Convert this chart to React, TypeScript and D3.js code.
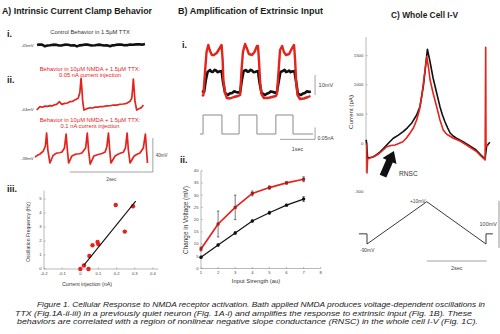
import React from 'react';
import * as d3 from 'd3';

const FONT = '"Liberation Sans", Arial, Helvetica, sans-serif';
const RED = '#e3231c';
const AXIS = '#8a8a8a';
const TICKTXT = '#444';

// ---------- Panel A: current clamp traces (time s, membrane mV) ----------
const traceAi: [number, number][] = [
  [0.05, -45], [0.1, -44.4], [0.17, -44.6], [0.24, -46.5], [0.3, -45.6], [0.36, -45.3], [0.44, -44.6],
  [0.51, -44.8], [0.58, -45.6], [0.65, -45.4], [0.72, -44.6], [0.8, -44.7], [0.87, -45.6], [0.94, -45.2],
  [1.01, -46.6], [1.07, -45.4], [1.13, -45.2], [1.2, -44.5], [1.28, -44.6], [1.36, -45.5], [1.45, -45.3],
  [1.52, -44.6], [1.59, -44.9], [1.66, -45.5], [1.73, -45.4], [1.81, -46.4], [1.87, -45.4], [1.93, -45.1],
  [2.0, -44.6], [2.07, -44.5], [2.15, -45.3], [2.22, -45.2], [2.29, -44.5], [2.36, -44.7], [2.44, -44.3],
  [2.51, -44.2], [2.58, -44.6], [2.65, -43.9],
];
const traceAii: [number, number][] = [
  [0.04, -45.2], [0.12, -41.3], [0.18, -41.9], [0.24, -40.6], [0.3, -40.9], [0.36, -40.1], [0.41, -40.4],
  [0.46, -39.2], [0.52, -38.5], [0.59, -35.4], [0.64, -38.5], [0.72, -37.4], [0.78, -36.9], [0.84, -35.4],
  [0.9, -35.2], [0.95, -33.6], [1.04, -31.4], [1.08, -25], [1.11, -7.9], [1.13, -20], [1.15, -35.4],
  [1.18, -45.2], [1.25, -43.6], [1.33, -42.5], [1.39, -42.8], [1.45, -41.8], [1.51, -41.9], [1.57, -41.3],
  [1.65, -41.1], [1.73, -40.4], [1.81, -40.2], [1.89, -39.3], [1.97, -39.4], [2.05, -38.4], [2.13, -38.1],
  [2.21, -37.3], [2.29, -35.0], [2.33, -31.4], [2.35, -22], [2.37, -8.7], [2.39, -22], [2.41, -35.4],
  [2.45, -45.2], [2.53, -43.2], [2.57, -42.1], [2.61, -39.3],
];
const traceAiii: [number, number][] = [
  [0, -36.8], [0.06, -34.9], [0.12, -33.3], [0.2, -29.8], [0.25, -23.9], [0.28, -8.6], [0.31, -28.6],
  [0.36, -43.9], [0.43, -35.6], [0.48, -33.4], [0.53, -32.1], [0.59, -31.8], [0.65, -30.9], [0.71, -26.2],
  [0.75, -9.8], [0.78, -28.6], [0.81, -43.9], [0.89, -35.6], [0.95, -34.1], [1.01, -33.3], [1.07, -33.0],
  [1.13, -32.1], [1.22, -26.2], [1.26, -8.6], [1.29, -28.6], [1.33, -45.1], [1.42, -35.6], [1.5, -34.2],
  [1.57, -33.3], [1.63, -32.4], [1.69, -30.9], [1.73, -25.1], [1.77, -8.6], [1.8, -28.6], [1.83, -43.9],
  [1.93, -35.6], [2.0, -33.5], [2.07, -32.1], [2.13, -31.2], [2.18, -26.2], [2.22, -8.6], [2.25, -28.6],
  [2.29, -43.9], [2.39, -35.6], [2.46, -33.6], [2.53, -32.1], [2.61, -26.2], [2.66, -9.8], [2.69, -30.9],
  [2.71, -43.9],
];

// ---------- Panel A-iii: oscillation frequency vs injection ----------
const injection = [0, 0.02, 0.045, 0.05, 0.067, 0.095, 0.1, 0.195, 0.245, 0.29];
const frequency = [0, 0.25, 0, 0.93, 1.7, 1.93, 1.76, 4.57, 2.67, 4.48];
const fitInjection = [0.02, 0.305];
const fitFrequency = [0.28, 4.85];
const injTicks = [-0.2, -0.1, 0, 0.1, 0.2, 0.3, 0.4];
const freqTicks = [0, 1, 2, 3, 4, 5];

// ---------- Panel B-i: voltage response (mV re: rest) and current steps ----------
const traceBctrl: [number, number][] = [
  [0, 1], [0.06, 0.5], [0.11, 6.5], [0.16, 10.5], [0.23, 11.5], [0.27, 10.6], [0.31, 10.5], [0.36, 11.6],
  [0.4, 11.25], [0.45, 10.4], [0.49, 10.75], [0.56, 11], [0.6, 5.5], [0.66, 0], [0.74, -1], [0.8, -0.2],
  [0.86, 0], [0.92, 0.9], [0.97, 0.5], [1.03, 0.2], [1.09, 0.5], [1.14, 6.5], [1.19, 11], [1.26, 11.5],
  [1.3, 10.6], [1.34, 10.75], [1.39, 11.6], [1.43, 11.25], [1.47, 10.4], [1.51, 10.5], [1.6, 11],
  [1.64, 5.5], [1.7, 0], [1.8, -1], [1.86, -0.3], [1.91, 0], [1.97, 0.8], [2.03, 0.5], [2.09, 0.1],
  [2.14, 0.5], [2.2, 6.5], [2.24, 10.5], [2.31, 11], [2.36, 11.6], [2.4, 10.5], [2.45, 10.8], [2.49, 11.25],
  [2.53, 10.4], [2.57, 10.75], [2.64, 11], [2.69, 5.5], [2.74, -0.5], [2.83, -1], [2.89, -0.2], [2.94, 0],
  [3.0, 0.9], [3.06, 0.5], [3.11, 0.75],
];
const traceBnmda: [number, number][] = [
  [0, -1.5], [0.04, -1], [0.09, 11.5], [0.13, 20.5], [0.18, 24], [0.23, 21], [0.28, 19], [0.34, 19],
  [0.42, 20], [0.49, 22], [0.56, 24], [0.59, 16.5], [0.61, 6.5], [0.66, 0], [0.71, -2.5], [0.8, -2.75],
  [0.91, -2], [1.03, -1.5], [1.09, -1], [1.13, 11.5], [1.17, 20.5], [1.23, 24.5], [1.29, 22], [1.34, 19.5],
  [1.43, 19], [1.5, 20.5], [1.57, 23.5], [1.6, 23.5], [1.63, 15.5], [1.66, 5.5], [1.7, -0.5], [1.77, -2.5],
  [1.89, -2.5], [2.0, -2], [2.11, -1.5], [2.14, -0.5], [2.19, 11.5], [2.23, 21.5], [2.29, 23.5],
  [2.34, 20.5], [2.4, 19], [2.49, 19.5], [2.56, 22], [2.63, 24], [2.66, 16.5], [2.69, 5.5], [2.73, -1],
  [2.8, -3], [2.91, -2.75], [3.03, -2], [3.1, -1.5],
];
const stepTimes = [-0.06, 0.03, 0.03, 0.57, 0.57, 1.06, 1.06, 1.57, 1.57, 2.11, 2.11, 2.6, 2.6, 3.17];
const stepCurrent = [0, 0, 0.08, 0.08, 0, 0, 0.08, 0.08, 0, 0, 0.08, 0.08, 0, 0];

// ---------- Panel B-ii: change in voltage vs input strength ----------
const inputStrength = [1, 2, 3, 4, 5, 6, 7];
const nmdaMean = [8.0, 18.2, 25.0, 30.7, 33.1, 35.0, 36.5];
const nmdaErr = [0.8, 5.3, 5.0, 1.0, 0.7, 0.5, 1.0];
const ctrlMean = [4.6, 9.6, 14.5, 19.4, 22.8, 25.9, 28.4];
const ctrlErr = [0.4, 0.4, 0.5, 0.4, 0.6, 0.4, 1.0];
const strengthTicks = [1, 2, 3, 4, 5, 6, 7, 8];
const voltTicks = [0, 5, 10, 15, 20, 25, 30, 35, 40];

// ---------- Panel C: whole cell I-V (time s, current pA) ----------
const ivNmda: [number, number][] = [
  [-0.01, 0], [0, -509], [0.02, -269], [0.1, -252], [0.2, -235], [0.32, -205], [0.43, -166], [0.55, -110],
  [0.66, -58], [0.8, -38], [0.94, -29], [1.06, -5], [1.2, 27], [1.32, 90], [1.44, 176], [1.56, 270],
  [1.66, 399], [1.75, 560], [1.83, 798], [1.92, 1170], [2.0, 1483], [2.06, 1289], [2.11, 1084],
  [2.21, 861], [2.33, 627], [2.44, 399], [2.55, 228], [2.63, 175], [2.71, 142], [2.89, 86], [3.11, 39],
  [3.33, -29], [3.51, -89], [3.67, -144], [3.81, -217], [3.95, -286], [3.97, 1644], [3.98, -60], [4.05, -30],
];
const ivCtrl: [number, number][] = [
  [-0.04, 60], [-0.02, 40], [0, -100], [0.02, -252], [0.2, -235], [0.32, -195], [0.43, -149], [0.55, -90],
  [0.66, -29], [0.77, 30], [0.88, 86], [1.05, 140], [1.21, 199], [1.35, 265], [1.49, 342], [1.66, 485],
  [1.77, 627], [1.89, 998], [2.02, 1610], [2.11, 1392], [2.21, 1118], [2.33, 861], [2.44, 627],
  [2.52, 490], [2.61, 365], [2.7, 260], [2.78, 176], [2.88, 125], [2.98, 91], [3.21, 27], [3.44, -46],
  [3.65, -115], [3.81, -200], [3.95, -269], [4.0, -46], [4.11, 17],
];
const currentTicks = [0, 500, 1000, 1500];
const protoTime = [-0.27, 0, 0, 2, 3.98, 3.98, 4.21];
const protoVolt = [-66, -66, -90, 10, -90, -66, -66];

const caption = [
  'Figure 1. Cellular Response to NMDA receptor activation. Bath applied NMDA produces voltage-dependent oscillations in',
  'TTX (Fig.1A-ii-iii) in a previously quiet neuron (Fig. 1A-i) and amplifies the response to extrinsic input (Fig. 1B). These',
  'behaviors are correlated with a region of nonlinear negative slope conductance (RNSC) in the whole cell I-V (Fig. 1C).',
];

export default function App() {
  // Panel A scales
  const xA = d3.scaleLinear().domain([0, 2.7]).range([35, 147.05]);
  const yAi = d3.scaleLinear().domain([-45, -5]).range([45, 11]);
  const yAii = d3.scaleLinear().domain([-44, -4]).range([109, 75]);
  const yAiii = d3.scaleLinear().domain([-38, 2]).range([158, 124]);
  const xF = d3.scaleLinear().domain([-0.2, 0.43]).range([44, 158.4]);
  const yF = d3.scaleLinear().domain([0, 5.6]).range([269, 190.6]);

  // Panel B scales
  const xB = d3.scaleLinear().domain([0, 3.1]).range([202, 310.5]);
  const yB = d3.scaleLinear().domain([0, 10]).range([93, 73]);
  const yI = d3.scaleLinear().domain([0, 0.08]).range([134, 115]);
  const xS = d3.scaleLinear().domain([1, 8]).range([201, 320.7]);
  const yS = d3.scaleLinear().domain([0, 40]).range([268.5, 170.7]);

  // Panel C scales
  const xC = d3.scaleLinear().domain([0, 4]).range([367, 486.6]);
  const yC = d3.scaleLinear().domain([-500, 1820]).range([172.5, 37]);
  const yP = d3.scaleLinear().domain([-90, 10]).range([244, 201.7]);

  const lineA = (ys: d3.ScaleLinear<number, number>) =>
    d3.line<[number, number]>().x((d) => xA(d[0])).y((d) => ys(d[1]));
  const lineB = d3.line<[number, number]>().x((d) => xB(d[0])).y((d) => yB(d[1]));
  const lineC = d3.line<[number, number]>().x((d) => xC(d[0])).y((d) => yC(d[1]));
  const stepLine = d3.line<number>().x((d) => xB(stepTimes[d])).y((d) => yI(stepCurrent[d]));
  const protoLine = d3.line<number>().x((d) => xC(protoTime[d])).y((d) => yP(protoVolt[d]));
  const nmdaLine = d3.line<number>().x((d) => xS(inputStrength[d])).y((d) => yS(nmdaMean[d]));
  const ctrlLine = d3.line<number>().x((d) => xS(inputStrength[d])).y((d) => yS(ctrlMean[d]));

  // arrow (RNSC) anchored in I-V data coordinates
  const tip = [xC(0.9), yC(-132)];
  const base = [xC(0.535), yC(-562)];
  const dx = tip[0] - base[0];
  const dy = tip[1] - base[1];
  const len = Math.hypot(dx, dy);
  const ux = dx / len, uy = dy / len;
  const nx = -uy, ny = ux;
  const sw = 3.6, hw = 7.6, hl = 11;
  const neck = [tip[0] - ux * hl, tip[1] - uy * hl];
  const arrowPts = [
    [base[0] + nx * sw, base[1] + ny * sw],
    [neck[0] + nx * sw, neck[1] + ny * sw],
    [neck[0] + nx * hw, neck[1] + ny * hw],
    tip,
    [neck[0] - nx * hw, neck[1] - ny * hw],
    [neck[0] - nx * sw, neck[1] - ny * sw],
    [base[0] - nx * sw, base[1] - ny * sw],
  ];

  const tickFs = 4.2;

  return (
    <svg
      width={500}
      height={334}
      style={{ position: 'absolute', left: 0, top: 0, background: '#fff' }}
      fontFamily={FONT}
    >
      <rect width={500} height={334} fill="#fff" />

      {/* Titles */}
      <text x={2} y={14} fontSize={9.6} fontWeight="bold" fill="#1a1a1a" textLength={150} lengthAdjust="spacingAndGlyphs">A) Intrinsic Current Clamp Behavior</text>
      <text x={178} y={14} fontSize={9.6} fontWeight="bold" fill="#1a1a1a" textLength={145} lengthAdjust="spacingAndGlyphs">B) Amplification of Extrinsic Input</text>
      <text x={391} y={17.5} fontSize={9.6} fontWeight="bold" fill="#1a1a1a" textLength={67} lengthAdjust="spacingAndGlyphs">C) Whole Cell I-V</text>

      {/* ---------------- Panel A ---------------- */}
      <g fill="#1a1a1a" fontWeight="bold" fontSize={9}>
        <text x={7} y={37}>i.</text>
        <text x={7} y={83}>ii.</text>
        <text x={7} y={192}>iii.</text>
      </g>
      <text x={90} y={34} fontSize={5.8} textAnchor="middle" fill="#333">Control Behavior in 1.5µM TTX</text>
      <g fontSize={5.8} textAnchor="middle" fill={RED}>
        <text x={90} y={70.5}>Behavior in 10µM  NMDA + 1.5µM TTX:</text>
        <text x={90} y={77}>0.05 nA current injection</text>
        <text x={90} y={121.5}>Behavior in 10µM  NMDA + 1.5µM TTX:</text>
        <text x={90} y={128}>0.1 nA current injection</text>
      </g>
      <g fontSize={4.2} textAnchor="end" fill="#444">
        <text x={33.5} y={yAi(-45) + 1.5}>-45mV</text>
        <text x={33.5} y={yAii(-44) + 1.5}>-44mV</text>
        <text x={33.5} y={yAiii(-38) + 1.5}>-38mV</text>
      </g>
      <path d={lineA(yAi)(traceAi) || ''} fill="none" stroke="#111" strokeWidth={2.6} strokeLinejoin="round" />
      <path d={lineA(yAii)(traceAii) || ''} fill="none" stroke={RED} strokeWidth={1.7} strokeLinejoin="round" />
      <path d={lineA(yAiii)(traceAiii) || ''} fill="none" stroke={RED} strokeWidth={1.7} strokeLinejoin="round" />
      {/* scale bar A: 40 mV / 2 s */}
      <path
        d={`M${xA(0.84)},${yAiii(-54.5)}H${xA(2.84)}V${yAiii(-14.5)}`}
        fill="none"
        stroke={AXIS}
        strokeWidth={0.8}
      />
      <text x={xA(2.84) + 3} y={yAiii(-34.5) + 1.5} fontSize={4.5} fill="#444">40mV</text>
      <text x={xA(1.84)} y={yAiii(-54.5) + 8.5} fontSize={4.8} textAnchor="middle" fill="#444">2sec</text>

      {/* A-iii scatter */}
      <g stroke={AXIS} strokeWidth={0.6} fill="none">
        <line x1={xF(-0.2)} x2={xF(-0.2)} y1={yF(0)} y2={yF(5.6)} />
        <line x1={xF(-0.2)} x2={xF(0.43)} y1={yF(0)} y2={yF(0)} />
        {freqTicks.map((t) => (
          <line key={'fy' + t} x1={xF(-0.2)} x2={xF(-0.2) + 1.6} y1={yF(t)} y2={yF(t)} />
        ))}
        {injTicks.map((t) => (
          <line key={'fx' + t} x1={xF(t)} x2={xF(t)} y1={yF(0)} y2={yF(0) - 1.6} />
        ))}
      </g>
      <g fontSize={tickFs} fill={TICKTXT}>
        {freqTicks.map((t) => (
          <text key={'fyl' + t} x={xF(-0.2) - 2.5} y={yF(t) + 1.4} textAnchor="end">{t}</text>
        ))}
        {injTicks.map((t) => (
          <text key={'fxl' + t} x={xF(t)} y={yF(0) + 5.5} textAnchor="middle">{t}</text>
        ))}
      </g>
      <text x={87} y={285.5} fontSize={5.3} textAnchor="middle" fill="#333">Current injection (nA)</text>
      <text transform={`translate(30,232) rotate(-90)`} fontSize={5.1} textAnchor="middle" fill="#333">Oscillation Frequency (Hz)</text>
      {injection.map((v, i) => (
        <circle key={'dot' + i} cx={xF(v)} cy={yF(frequency[i])} r={2.2} fill={RED} />
      ))}
      <line
        x1={xF(fitInjection[0])}
        y1={yF(fitFrequency[0])}
        x2={xF(fitInjection[1])}
        y2={yF(fitFrequency[1])}
        stroke="#111"
        strokeWidth={1.1}
      />

      {/* ---------------- Panel B ---------------- */}
      <g fill="#1a1a1a" fontWeight="bold" fontSize={9}>
        <text x={182} y={48}>i.</text>
        <text x={180} y={163}>ii.</text>
      </g>
      <path d={lineB(traceBctrl) || ''} fill="none" stroke="#111" strokeWidth={2.6} strokeLinejoin="round" />
      <path d={lineB(traceBnmda) || ''} fill="none" stroke={RED} strokeWidth={2.4} strokeLinejoin="round" />
      <path d={stepLine(d3.range(stepTimes.length)) || ''} fill="none" stroke="#8a8a8a" strokeWidth={1} />
      {/* 10 mV bar */}
      <line x1={xB(3.23)} x2={xB(3.23)} y1={yB(-1)} y2={yB(9)} stroke={AXIS} strokeWidth={0.8} />
      <text x={xB(3.23) + 3.5} y={yB(4) + 2} fontSize={5.6} fill="#444">10mV</text>
      {/* 0.05 nA / 1 s bar */}
      <path
        d={`M${xB(2.23)},${yI(-0.0225)}H${xB(3.23)}V${yI(0.0275)}`}
        fill="none"
        stroke={AXIS}
        strokeWidth={0.8}
      />
      <text x={xB(3.23) + 2.5} y={yI(-0.0225) + 0.5} fontSize={5.1} fill="#444">0.05nA</text>
      <text x={xB(2.73)} y={yI(-0.0225) + 12} fontSize={5.4} textAnchor="middle" fill="#444">1sec</text>

      {/* B-ii plot */}
      <g stroke={AXIS} strokeWidth={0.6} fill="none">
        <line x1={xS(1)} x2={xS(1)} y1={yS(0)} y2={yS(40)} />
        <line x1={xS(1)} x2={xS(8)} y1={yS(0)} y2={yS(0)} />
        {voltTicks.map((t) => (
          <line key={'sy' + t} x1={xS(1)} x2={xS(1) + 1.6} y1={yS(t)} y2={yS(t)} />
        ))}
        {strengthTicks.map((t) => (
          <line key={'sx' + t} x1={xS(t)} x2={xS(t)} y1={yS(0)} y2={yS(0) - 1.6} />
        ))}
      </g>
      <g fontSize={tickFs} fill={TICKTXT}>
        {voltTicks.map((t) => (
          <text key={'syl' + t} x={xS(1) - 2.5} y={yS(t) + 1.4} textAnchor="end">{t}</text>
        ))}
        {strengthTicks.map((t) => (
          <text key={'sxl' + t} x={xS(t)} y={yS(0) + 5.5} textAnchor="middle">{t}</text>
        ))}
      </g>
      <text x={256} y={282.5} fontSize={5.8} textAnchor="middle" fill="#333">Input Strength (au)</text>
      <text transform={`translate(188,220) rotate(-90)`} fontSize={6.4} textAnchor="middle" fill="#333">Change in Voltage (mV)</text>
      <path d={ctrlLine(d3.range(inputStrength.length)) || ''} fill="none" stroke="#111" strokeWidth={1.2} />
      <path d={nmdaLine(d3.range(inputStrength.length)) || ''} fill="none" stroke={RED} strokeWidth={1.7} />
      {inputStrength.map((s, i) => (
        <g key={'eb' + i} stroke="#222" strokeWidth={0.6}>
          <line x1={xS(s)} x2={xS(s)} y1={yS(ctrlMean[i] - ctrlErr[i])} y2={yS(ctrlMean[i] + ctrlErr[i])} />
          <line x1={xS(s) - 1.2} x2={xS(s) + 1.2} y1={yS(ctrlMean[i] - ctrlErr[i])} y2={yS(ctrlMean[i] - ctrlErr[i])} />
          <line x1={xS(s) - 1.2} x2={xS(s) + 1.2} y1={yS(ctrlMean[i] + ctrlErr[i])} y2={yS(ctrlMean[i] + ctrlErr[i])} />
          <line x1={xS(s)} x2={xS(s)} y1={yS(nmdaMean[i] - nmdaErr[i])} y2={yS(nmdaMean[i] + nmdaErr[i])} />
          <line x1={xS(s) - 1.2} x2={xS(s) + 1.2} y1={yS(nmdaMean[i] - nmdaErr[i])} y2={yS(nmdaMean[i] - nmdaErr[i])} />
          <line x1={xS(s) - 1.2} x2={xS(s) + 1.2} y1={yS(nmdaMean[i] + nmdaErr[i])} y2={yS(nmdaMean[i] + nmdaErr[i])} />
        </g>
      ))}
      {inputStrength.map((s, i) => (
        <g key={'mk' + i}>
          <circle cx={xS(s)} cy={yS(ctrlMean[i])} r={1.7} fill="#111" />
          <rect x={xS(s) - 1.5} y={yS(nmdaMean[i]) - 1.5} width={3} height={3} fill="#b01818" />
        </g>
      ))}

      {/* ---------------- Panel C ---------------- */}
      <g stroke={AXIS} strokeWidth={0.6} fill="none">
        <line x1={366} x2={366} y1={yC(-500)} y2={yC(1820)} />
        {currentTicks.map((t) => (
          <line key={'cy' + t} x1={366} x2={367.6} y1={yC(t)} y2={yC(t)} />
        ))}
      </g>
      <g fontSize={4.4} fill={TICKTXT} textAnchor="end">
        {currentTicks.map((t) => (
          <text key={'cyl' + t} x={363.5} y={yC(t) + 1.5}>{t}</text>
        ))}
        <text x={363.5} y={yC(-500) + 20}>-500</text>
      </g>
      <text transform={`translate(353,112) rotate(-90)`} fontSize={6.2} textAnchor="middle" fill="#333">Current (pA)</text>
      <path d={lineC(ivCtrl) || ''} fill="none" stroke="#111" strokeWidth={1.6} strokeLinejoin="round" />
      <path d={lineC(ivNmda) || ''} fill="none" stroke={RED} strokeWidth={1.6} strokeLinejoin="round" />
      <polygon points={arrowPts.map((p) => p.join(',')).join(' ')} fill="#111" />
      <text x={399} y={176} fontSize={6.6} fill="#333">RNSC</text>

      {/* voltage protocol */}
      <path d={protoLine(d3.range(protoTime.length)) || ''} fill="none" stroke="#222" strokeWidth={0.9} />
      <text x={410} y={yP(10) + 1.5} fontSize={4.9} fill="#444">+10mV</text>
      <text x={360} y={yP(-90) + 8} fontSize={4.9} fill="#444">-90mV</text>
      <line x1={499} x2={499} y1={yP(12)} y2={yP(-99)} stroke={AXIS} strokeWidth={0.9} />
      <text x={497} y={226} fontSize={5.5} textAnchor="end" fill="#444">100mV</text>
      <line x1={xC(2)} x2={xC(4)} y1={261} y2={261} stroke={AXIS} strokeWidth={0.8} />
      <text x={xC(3)} y={270} fontSize={5.5} textAnchor="middle" fill="#444">2sec</text>

      {/* Caption */}
      <g fontSize={7.8} fontStyle="italic" fill="#1a1a1a">
        <text x={37} y={307} textLength={448} lengthAdjust="spacingAndGlyphs">{caption[0]}</text>
        <text x={15} y={315.7} textLength={457} lengthAdjust="spacingAndGlyphs">{caption[1]}</text>
        <text x={17} y={324.4} textLength={461} lengthAdjust="spacingAndGlyphs">{caption[2]}</text>
      </g>
    </svg>
  );
}
